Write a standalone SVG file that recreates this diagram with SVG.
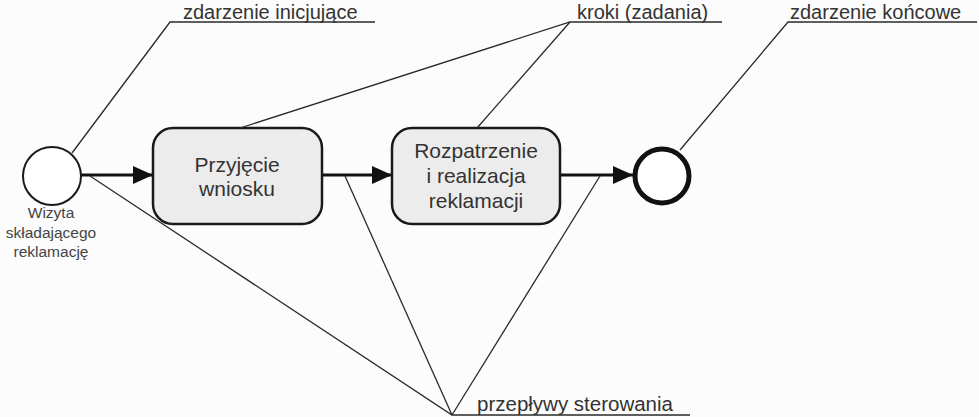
<svg xmlns="http://www.w3.org/2000/svg" width="979" height="417" viewBox="0 0 979 417">
  <defs>
    <marker id="arrow" viewBox="0 0 20 18" refX="20" refY="9" markerWidth="20" markerHeight="18" markerUnits="userSpaceOnUse" orient="auto">
      <path d="M0,0 L20,9 L0,18 Z" fill="#111"/>
    </marker>
  </defs>
  <style>
    .task rect { fill: #ececec; stroke: #1a1a1a; stroke-width: 2.5; }
    .task text { font-family: "Liberation Sans", Arial, sans-serif; font-size: 21px; fill: #333; text-anchor: middle; }
    .evtlabel { font-family: "Liberation Sans", Arial, sans-serif; font-size: 15.5px; fill: #444; text-anchor: middle; }
    .flow { stroke: #111; stroke-width: 3; fill: none; }
    .note { stroke: #2a2a2a; stroke-width: 1.3; fill: none; }
    .notetext { font-family: "Liberation Sans", Arial, sans-serif; font-size: 20px; fill: #333; }
  </style>
  <rect width="979" height="417" fill="#fcfcfc"/>

  <!-- sequence flows -->
  <g id="connectors">
    <line class="flow" x1="81" y1="175" x2="153" y2="175" marker-end="url(#arrow)"/>
    <line class="flow" x1="322" y1="175" x2="392" y2="175" marker-end="url(#arrow)"/>
    <line class="flow" x1="560" y1="175" x2="633" y2="175" marker-end="url(#arrow)"/>
  </g>

  <!-- start event -->
  <g id="start-event">
    <circle cx="52" cy="176" r="29" fill="#fff" stroke="#1a1a1a" stroke-width="2"/>
    <text class="evtlabel" x="51" y="218">Wizyta</text>
    <text class="evtlabel" x="51" y="238">składającego</text>
    <text class="evtlabel" x="51" y="257">reklamację</text>
  </g>

  <!-- tasks -->
  <g id="task-przyjecie" class="task">
    <rect x="153" y="128" width="169" height="96" rx="20" ry="20"/>
    <text x="237" y="172">Przyjęcie</text>
    <text x="237" y="196">wniosku</text>
  </g>
  <g id="task-rozpatrzenie" class="task">
    <rect x="392" y="128" width="168" height="96" rx="20" ry="20"/>
    <text x="476" y="158">Rozpatrzenie</text>
    <text x="476" y="183">i realizacja</text>
    <text x="476" y="208">reklamacji</text>
  </g>

  <!-- end event -->
  <g id="end-event">
    <circle cx="662" cy="176" r="27" fill="#fff" stroke="#111" stroke-width="5"/>
  </g>

  <!-- callouts -->
  <g id="callout-start">
    <polyline class="note" points="375,22 170,22 72,153"/>
    <text class="notetext" x="183" y="19">zdarzenie inicjujące</text>
  </g>
  <g id="callout-tasks">
    <polyline class="note" points="722,22 570,22 240,128"/>
    <line class="note" x1="570" y1="22" x2="477" y2="128"/>
    <text class="notetext" x="577" y="19">kroki (zadania)</text>
  </g>
  <g id="callout-end">
    <polyline class="note" points="977,22 788,22 680,150"/>
    <text class="notetext" x="790" y="19">zdarzenie końcowe</text>
  </g>
  <g id="callout-flows">
    <polyline class="note" points="690,415 452,415 90,176"/>
    <line class="note" x1="452" y1="415" x2="345" y2="176"/>
    <line class="note" x1="452" y1="415" x2="600" y2="176"/>
    <text class="notetext" x="477" y="411" style="font-size:20.5px">przepływy sterowania</text>
  </g>
</svg>
